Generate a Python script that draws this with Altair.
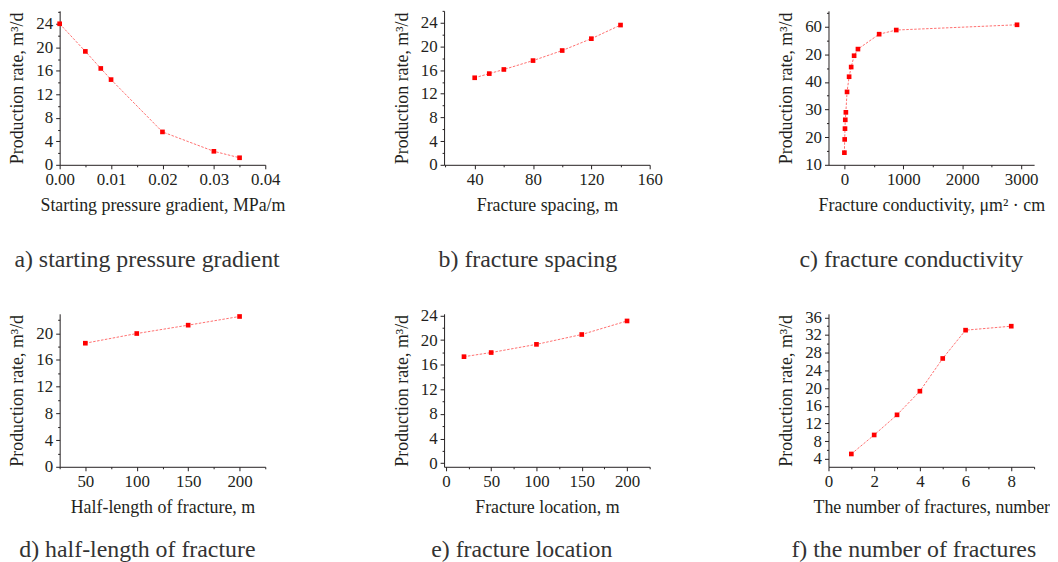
import altair as alt
import pandas as pd

# ---- data ----
a_x = [0.0, 0.005, 0.008, 0.01, 0.02, 0.03, 0.035]
a_y = [24.0, 19.3, 16.4, 14.5, 5.6, 2.3, 1.2]

b_x = [40, 50, 60, 80, 100, 120, 140]
b_y = [14.7, 15.4, 16.1, 17.6, 19.3, 21.3, 23.6]

c_x = [0, 5, 10, 15, 25, 45, 80, 115, 165, 230, 590, 880, 2930]
c_y = [14.4, 19.2, 23.1, 26.3, 29.0, 36.4, 41.9, 45.4, 49.5, 51.9, 57.3, 58.8, 60.7]

d_x = [50, 100, 150, 200]
d_y = [18.5, 19.95, 21.2, 22.5]

e_x = [20, 50, 100, 150, 200]
e_y = [17.3, 17.97, 19.3, 20.9, 23.1]

f_x = [1, 2, 3, 4, 5, 6, 8]
f_y = [5.1, 9.4, 13.95, 19.3, 26.7, 33.1, 34.0]

# minor tick positions
a_xm = [0.005, 0.015, 0.025, 0.035]
b_xm = [20, 60, 100, 140]
c_xm = [500, 1500, 2500]
d_xm = [25, 75, 125, 175, 225]
e_xm = [25, 75, 125, 175, 225]
f_xm = [1, 3, 5, 7, 9]
a_ym = [2, 6, 10, 14, 18, 22, 26]
b_ym = [2, 6, 10, 14, 18, 22, 26]
c_ym = [15, 25, 35, 45, 55, 65]
d_ym = [2, 6, 10, 14, 18, 22]
e_ym = [2, 6, 10, 14, 18, 22]
f_ym = [6, 10, 14, 18, 22, 26, 30, 34]

y_title = "Production rate, m³/d"
FONT = "Liberation Serif"
TXT = "#231f20"


def panel(xs, ys, xdom, ydom, xticks, yticks, xminor, yminor, xtitle, caption, h,
          cap_offset, xfmt="d", ylabel_expr=None):
    df = pd.DataFrame({"x": xs, "y": ys})
    xaxis = alt.Axis(values=xticks, title=xtitle, format=xfmt, labelFlush=False, orient="bottom")
    if ylabel_expr:
        yaxis = alt.Axis(values=yticks, title=y_title, labelExpr=ylabel_expr, orient="left")
    else:
        yaxis = alt.Axis(values=yticks, title=y_title, orient="left")
    xs_ = alt.Scale(domain=xdom, nice=False, zero=False)
    ys_ = alt.Scale(domain=ydom, nice=False, zero=False)
    line = alt.Chart(df).mark_line(
        color="#ff2a2a", strokeWidth=0.9, strokeDash=[2.5, 1.5], opacity=0.75
    ).encode(
        x=alt.X("x:Q", scale=xs_, axis=xaxis),
        y=alt.Y("y:Q", scale=ys_, axis=yaxis),
    )
    pts = alt.Chart(df).mark_square(color="#ff0000", size=22, opacity=1).encode(
        x=alt.X("x:Q", scale=xs_, axis=alt.Axis(values=xminor, labels=False, domain=False,
                                                 tickSize=2, title=None, orient="bottom")),
        y=alt.Y("y:Q", scale=ys_, axis=alt.Axis(values=yminor, labels=False, domain=False,
                                                 tickSize=2, title=None, orient="left")),
    )
    return alt.layer(line, pts).resolve_axis(x="independent", y="independent").properties(
        width=207, height=h,
        title=alt.TitleParams(caption, orient="bottom", frame="bounds", anchor="middle",
                              fontSize=24, font=FONT, fontWeight="normal", color="#333333",
                              offset=cap_offset),
    )


pa = panel(a_x, a_y, [0, 0.04], [0, 26.2], [0, 0.01, 0.02, 0.03, 0.04],
           [0, 4, 8, 12, 16, 20, 24], a_xm, a_ym, "Starting pressure gradient, MPa/m",
           "a) starting pressure gradient", 155, 34, xfmt=".2f")
pb = panel(b_x, b_y, [19, 160], [0, 26.0], [40, 80, 120, 160],
           [0, 4, 8, 12, 16, 20, 24], b_xm, b_ym, "Fracture spacing, m",
           "b) fracture spacing", 155, 34)
pc = panel(c_x, c_y, [-270, 3220], [10, 65.75], [0, 1000, 2000, 3000],
           [10, 20, 30, 40, 50, 60], c_xm, c_ym, "Fracture conductivity, μm² · cm",
           "c) fracture conductivity", 155, 34,
           ylabel_expr="datum.value == 50 ? '20' : datum.label")
pd_ = panel(d_x, d_y, [25, 225], [0, 22.9], [50, 100, 150, 200],
            [0, 4, 8, 12, 16, 20], d_xm, d_ym, "Half-length of fracture, m",
            "d) half-length of fracture", 154, 22)
pe = panel(e_x, e_y, [-2, 225], [-0.58, 24.26], [0, 50, 100, 150, 200],
           [0, 4, 8, 12, 16, 20, 24], e_xm, e_ym, "Fracture location, m",
           "e) fracture location", 154, 22)
pf = panel(f_x, f_y, [0, 9], [2.2, 36.8], [0, 2, 4, 6, 8],
           [4, 8, 12, 16, 20, 24, 28, 32, 36], f_xm, f_ym, "The number of fractures, number",
           "f) the number of fractures", 154, 22)

chart = alt.concat(pa, pb, pc, pd_, pe, pf, columns=3,
                   spacing={"row": 150, "column": 180}, bounds="flush").properties(
    padding={"left": 0, "top": 0, "right": 0, "bottom": 0},
    background="white",
).configure_view(stroke=None).configure_axis(
    grid=False,
    domainColor="#231f20",
    tickColor="#231f20",
    tickSize=4,
    labelFont=FONT,
    labelFontSize=17,
    labelColor=TXT,
    titleFont=FONT,
    titleFontSize=18,
    titleFontWeight="normal",
    titleColor=TXT,
    labelPadding=3,
    titlePadding=9,
)

chart.save("out.html", embed_options={"renderer": "svg", "actions": False})
